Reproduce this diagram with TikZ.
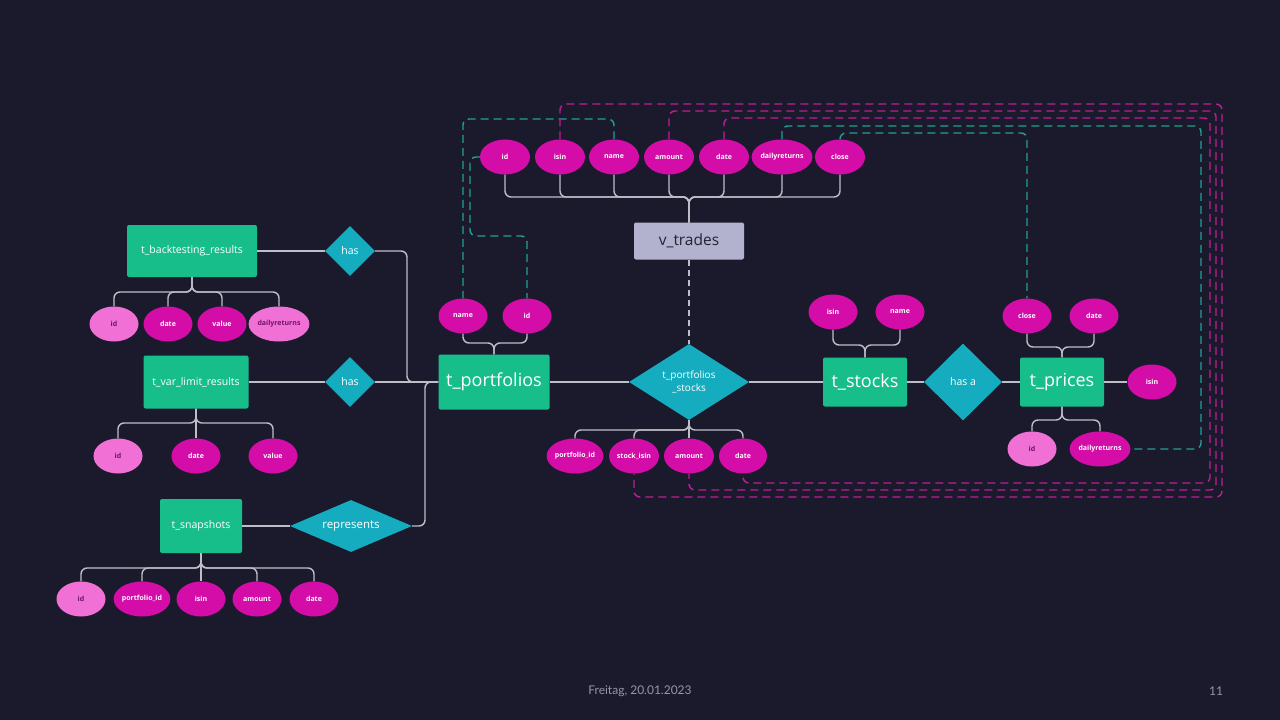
\documentclass[tikz,border=0pt]{standalone}
\usepackage{fontspec}
\setmainfont{Open Sans}
\newfontfamily\footfont{Lato}
\usetikzlibrary{shapes.geometric, positioning}
\definecolor{bgcolor}{RGB}{27,26,44}
\definecolor{entitycolor}{RGB}{24,190,138}
\definecolor{relcolor}{RGB}{22,172,192}
\definecolor{attrcolor}{RGB}{212,12,168}
\definecolor{keycolor}{RGB}{240,112,214}
\definecolor{keytext}{RGB}{110,20,100}
\definecolor{viewcolor}{RGB}{178,178,206}
\definecolor{viewtext}{RGB}{34,34,52}
\definecolor{linkcolor}{RGB}{190,190,200}
\definecolor{tealdashcolor}{RGB}{32,160,150}
\definecolor{pinkdashcolor}{RGB}{190,30,150}
\definecolor{footcolor}{RGB}{150,150,165}

\begin{document}
\begin{tikzpicture}[
  x=1pt, y=-1pt,
  entity/.style={
    rectangle, fill=entitycolor, rounded corners=2pt, text=white,
    inner sep=0pt
  },
  bigentity/.style={entity, font=\fontsize{18}{20}\selectfont},
  smallentity/.style={entity, font=\fontsize{10.5}{12}\selectfont},
  viewbox/.style={
    rectangle, fill=viewcolor, rounded corners=2pt, text=viewtext,
    inner sep=0pt, font=\fontsize{15.5}{17}\selectfont
  },
  relation/.style={
    diamond, fill=relcolor, text=white, inner sep=0pt, align=center,
    font=\fontsize{10.5}{11}\selectfont
  },
  attr/.style={
    ellipse, fill=attrcolor, text=white, inner sep=0pt,
    minimum width=49pt, minimum height=35pt,
    font=\fontsize{7}{8}\selectfont\bfseries
  },
  keyattr/.style={attr, fill=keycolor, text=keytext},
  link/.style={draw=linkcolor, line width=1.4pt, rounded corners=6pt},
  tealdash/.style={draw=tealdashcolor, line width=1.4pt,
    dash pattern=on 8pt off 5pt, rounded corners=6pt},
  pinkdash/.style={draw=pinkdashcolor, line width=1.4pt,
    dash pattern=on 8pt off 5pt, rounded corners=6pt},
  viewdash/.style={draw=linkcolor, line width=1.2pt, dash pattern=on 6pt off 4pt},
  footer/.style={font=\footfont\fontsize{12}{14}\selectfont, text=footcolor},
]

%% ─── Background ──────────────────────────────────────────────────────────────

\fill[bgcolor] (0,0) rectangle (1280,720);
\useasboundingbox (0,0) rectangle (1280,720);

%% ─── Entities ────────────────────────────────────────────────────────────────

\node[smallentity, minimum width=130pt, minimum height=52pt] (btest)  at (192,251) {t\_backtesting\_results};
\node[smallentity, minimum width=105pt, minimum height=53pt] (varlim) at (196,382) {t\_var\_limit\_results};
\node[smallentity, minimum width=82pt,  minimum height=54pt] (snap)   at (201,526) {t\_snapshots};
\node[bigentity,   minimum width=111pt, minimum height=55pt] (tport)  at (494,382) {t\_portfolios};
\node[bigentity,   minimum width=84pt,  minimum height=49pt] (stocks) at (865,382) {t\_stocks};
\node[bigentity,   minimum width=84pt,  minimum height=49pt] (prices) at (1062,382) {t\_prices};
\node[viewbox,     minimum width=110pt, minimum height=37pt] (vtrades) at (689,241) {v\_trades};

%% ─── Relations ───────────────────────────────────────────────────────────────

\node[relation, minimum width=50pt, minimum height=50pt] (has1) at (350,251) {has};
\node[relation, minimum width=50pt, minimum height=50pt] (has2) at (350,382) {has};
\node[relation, aspect=2.4, minimum width=122pt, minimum height=52pt,
      font=\fontsize{11.5}{12}\selectfont] (rep) at (351,526) {represents};
\node[relation, aspect=1.6, minimum width=120pt, minimum height=76pt,
      font=\fontsize{10}{12.5}\selectfont] (pstocks) at (689,382) {t\_portfolios\\\_stocks};
\node[relation, minimum width=78pt, minimum height=77pt] (hasa) at (963,382) {has a};

%% ─── Attributes ──────────────────────────────────────────────────────────────

% v_trades
\node[attr, minimum width=50pt] (vt_id)     at (505,157) {id};
\node[attr, minimum width=50pt] (vt_isin)   at (560,157) {isin};
\node[attr, minimum width=50pt] (vt_name)   at (614,157) {name};
\node[attr, minimum width=50pt] (vt_amount) at (669,157) {amount};
\node[attr, minimum width=50pt] (vt_date)   at (724,157) {date};
\node[attr, minimum width=57pt] (vt_daily)  at (782,157) {dailyreturns};
\node[attr, minimum width=50pt] (vt_close)  at (840,157) {close};

% t_backtesting_results
\node[keyattr]                  (bt_id)    at (114,324) {id};
\node[attr]                     (bt_date)  at (168,324) {date};
\node[attr]                     (bt_value) at (222,324) {value};
\node[keyattr, minimum width=56pt] (bt_daily) at (279,324) {dailyreturns};

% t_var_limit_results
\node[keyattr] (vl_id)    at (118,456) {id};
\node[attr]    (vl_date)  at (196,456) {date};
\node[attr]    (vl_value) at (273,456) {value};

% t_snapshots
\node[keyattr]                  (sn_id)     at (81,599)  {id};
\node[attr, minimum width=56pt] (sn_pid)    at (142,599) {portfolio\_id};
\node[attr]                     (sn_isin)   at (201,599) {isin};
\node[attr]                     (sn_amount) at (257,599) {amount};
\node[attr]                     (sn_date)   at (314,599) {date};

% t_portfolios
\node[attr] (tp_name) at (463,316) {name};
\node[attr] (tp_id)   at (527,316) {id};

% t_portfolios_stocks
\node[attr, minimum width=56pt] (ps_pid)    at (575,456) {portfolio\_id};
\node[attr, minimum width=50pt] (ps_isin)   at (634,456) {stock\_isin};
\node[attr, minimum width=50pt] (ps_amount) at (689,456) {amount};
\node[attr, minimum width=48pt] (ps_date)   at (743,456) {date};

% t_stocks
\node[attr] (ts_isin) at (833,312) {isin};
\node[attr] (ts_name) at (900,312) {name};

% t_prices
\node[attr]                     (pr_close) at (1027,316) {close};
\node[attr]                     (pr_date)  at (1094,316) {date};
\node[keyattr]                  (pr_id)    at (1032,449) {id};
\node[attr, minimum width=57pt] (pr_daily) at (1100,449) {dailyreturns};
\node[attr]                     (pr_isin)  at (1152,382) {isin};

%% ─── Attribute braces ────────────────────────────────────────────────────────

\foreach \a in {vt_id, vt_isin, vt_name, vt_amount, vt_date, vt_daily, vt_close}
  \draw[link] (\a.south) |- (689,197) -- (vtrades.north);
\foreach \a in {bt_id, bt_date, bt_value, bt_daily}
  \draw[link] (\a.north) |- (192,292) -- (btest.south);
\foreach \a in {vl_id, vl_value}
  \draw[link] (\a.north) |- (196,423) -- (varlim.south);
\draw[link] (vl_date) -- (varlim);
\foreach \a in {sn_id, sn_pid, sn_amount, sn_date}
  \draw[link] (\a.north) |- (201,568) -- (snap.south);
\draw[link] (sn_isin) -- (snap);
\foreach \a in {tp_name, tp_id}
  \draw[link] (\a.south) |- (494,343) -- (tport.north);
\foreach \a in {ps_pid, ps_isin, ps_date}
  \draw[link] (\a.north) |- (689,430) -- (pstocks.south);
\draw[link] (ps_amount) -- (pstocks);
\foreach \a in {ts_isin, ts_name}
  \draw[link] (\a.south) |- (865,345) -- (stocks.north);
\foreach \a in {pr_close, pr_date}
  \draw[link] (\a.south) |- (1062,347) -- (prices.north);
\foreach \a in {pr_id, pr_daily}
  \draw[link] (\a.north) |- (1062,420) -- (prices.south);

%% ─── Relationship lines ──────────────────────────────────────────────────────

\draw[link] (btest) -- (has1);
\draw[link] (has1.east) -| (407,382) -- (tport.west);
\draw[link] (varlim) -- (has2);
\draw[link] (has2) -- (tport);
\draw[link] (snap) -- (rep);
\draw[link] (rep.east) -| (425,382) -- (tport.west);
\draw[link] (tport) -- (pstocks);
\draw[link] (pstocks) -- (stocks);
\draw[link] (stocks) -- (hasa);
\draw[link] (hasa) -- (prices);
\draw[link] (prices) -- (pr_isin);
\draw[viewdash] (vtrades.south) -- (pstocks.north);

%% ─── View sources (dashed) ───────────────────────────────────────────────────

\draw[tealdash] (vt_name.north) |- (463,119) -- (tp_name.north);
\draw[tealdash] (vt_id.west) -| (470,236) -| (tp_id.north);
\draw[pinkdash] (vt_isin.north) |- (1222,104) -- (1222,497) -| (ps_isin.south);
\draw[pinkdash] (vt_amount.north) |- (1216,111) -- (1216,490) -| (ps_amount.south);
\draw[pinkdash] (vt_date.north) |- (1210,118) -- (1210,483) -| (ps_date.south);
\draw[tealdash] (vt_daily.north) |- (1201,126) |- (pr_daily.east);
\draw[tealdash] (vt_close.north) |- (1027,133) -- (pr_close.north);

%% ─── Footer ──────────────────────────────────────────────────────────────────

\node[footer] (footdate) at (640,691) {Freitag, 20.01.2023};
\node[footer] (footpage) at (1216,691) {11};

\end{tikzpicture}
\end{document}
